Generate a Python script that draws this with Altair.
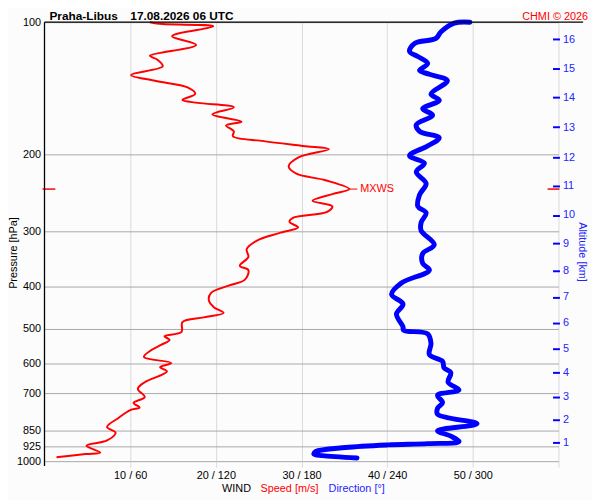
import altair as alt
import pandas as pd

# ---- data ----
speed_hpa = [100.0, 101.0, 102.2, 107.6, 112.7, 119.3, 121.5, 126.0, 131.9, 136.0,
             140.8, 145.7, 150.4, 152.7, 156.3, 162.2, 168.5, 171.9, 177.3, 181.9,
             186.6, 191.4, 194.6, 203.4, 213.0, 221.4, 229.1, 240.0, 246.4, 255.2,
             262.7, 270.5, 279.0, 285.1, 293.5, 302.3, 314.4, 329.1, 342.5, 358.9,
             367.0, 385.9, 398.3, 414.5, 431.3, 446.4, 459.3, 470.4, 482.1, 507.5,
             519.3, 529.6, 543.4, 559.5, 579.2, 597.6, 611.2, 624.5, 661.0, 684.4,
             714.3, 736.6, 754.6, 765.3, 798.2, 836.0, 861.5, 897.1, 922.3, 955.4,
             963.6, 979.7]
speed_ms = [12.3, 13.8, 19.7, 14.9, 17.7, 12.3, 13.1, 13.8, 10.1, 12.9,
            16.7, 17.6, 16.1, 17.9, 22.1, 19.6, 23.0, 21.2, 22.1, 22.0,
            25.6, 30.2, 33.2, 29.6, 28.5, 29.4, 32.8, 35.6, 33.6, 31.3,
            33.6, 33.0, 29.0, 28.6, 29.6, 27.4, 24.8, 23.6, 23.8, 22.8,
            23.8, 23.4, 21.5, 19.4, 19.2, 19.8, 20.9, 18.6, 16.1, 16.0,
            14.0, 14.6, 13.6, 12.4, 11.6, 14.8, 13.5, 14.3, 11.7, 10.9,
            11.7, 10.4, 11.1, 10.0, 8.6, 7.3, 8.3, 7.3, 4.9, 6.5,
            4.8, 1.4]

dir_hpa = [100.0, 100.5, 105.3, 108.9, 111.8, 116.6, 119.7, 124.2, 128.8, 131.4,
           136.0, 145.7, 150.7, 157.5, 162.8, 171.3, 177.3, 183.5, 191.4, 201.5,
           209.6, 219.5, 233.0, 247.4, 262.7, 271.8, 286.1, 298.4, 321.5, 336.6,
           354.4, 367.0, 392.7, 416.8, 438.7, 462.1, 494.0, 503.0, 513.0, 539.4,
           572.1, 592.4, 612.9, 629.0, 661.0, 688.0, 708.0, 735.2, 758.3, 782.0,
           822.0, 852.3, 877.1, 902.7, 912.0, 918.1, 930.8, 950.1, 963.6, 971.6,
           983.4]
dir_deg = [298.0, 287.0, 277.6, 274.2, 259.2, 255.7, 261.5, 268.4, 262.7, 269.6,
           282.2, 270.7, 276.5, 264.9, 271.8, 260.4, 262.7, 276.5, 268.4, 255.7,
           266.1, 260.4, 267.3, 262.7, 261.5, 267.3, 263.8, 263.8, 273.0, 264.9,
           264.9, 269.6, 250.0, 243.1, 251.1, 246.5, 251.1, 251.5, 268.4, 270.7,
           269.6, 278.8, 279.9, 284.6, 282.7, 290.3, 275.3, 278.8, 275.3, 275.3,
           303.0, 275.3, 284.6, 290.3, 268.4, 240.7, 210.8, 190.1, 188.7, 194.7,
           218.9]

alt_km = [1, 2, 3, 4, 5, 6, 7, 8, 9, 10, 11, 12, 13, 14, 15, 16]
alt_hpa = [908.7, 803.4, 712.9, 628.1, 554.6, 483.5, 422.6, 368.5, 318.6, 275.0,
           235.8, 203.6, 173.4, 148.4, 127.3, 109.3]

pressure_ticks = [100, 200, 300, 400, 500, 600, 700, 850, 925, 1000]
speed_ticks = [10, 20, 30, 40, 50, 60]

mxws_hpa = [240.0]
mxws_ms = [35.6]

# ---- styling ----
W, H = 521, 445
FONT = "Liberation Sans"
RED = "#ff0000"
BLUE = "#0000ff"
BLUE_TXT = "#2424ff"

speed_df = pd.DataFrame({"pressure": speed_hpa, "speed": speed_ms})
dir_df = pd.DataFrame({"pressure": dir_hpa, "direction": dir_deg})
alt_df = pd.DataFrame({"pressure": alt_hpa, "km": alt_km})
mx_df = pd.DataFrame({"pressure": mxws_hpa, "speed": mxws_ms})
one = pd.DataFrame({"a": [0]})


def yscale():
    return alt.Scale(type="log", domain=[100, 1000], reverse=True, nice=False, zero=False)


def sscale():
    return alt.Scale(domain=[0, 60], nice=False, zero=False)


speed = alt.Chart(speed_df).mark_line(color=RED, strokeWidth=2, strokeJoin="round",
                                      interpolate="catmull-rom").encode(
    x=alt.X("speed:Q", scale=sscale(),
            axis=alt.Axis(values=speed_ticks, title=None, grid=True, gridColor="#d9d9d9",
                          gridWidth=1, domain=False, ticks=True, tickColor="#d9d9d9",
                          tickSize=6, labelPadding=3, labelFontSize=11, labelColor="black",
                          labelFont=FONT, labelFlush=False, labelOverlap=False,
                          labelExpr="datum.value >= 60 ? '' : datum.value + ' / ' + (datum.value * 6)")),
    y=alt.Y("pressure:Q", scale=yscale(),
            axis=alt.Axis(orient="left", values=pressure_ticks, format="d", title=None, grid=True,
                          gridColor="#a8a8a8", gridWidth=1, domain=False, ticks=False,
                          labelPadding=4, labelFontSize=11, labelColor="black", labelFont=FONT,
                          labelFlush=False, labelOverlap=False)),
    order=alt.Order("pressure:Q", sort="descending"),
)

direction = alt.Chart(dir_df).mark_line(color=BLUE, strokeWidth=5, strokeJoin="round",
                                        strokeCap="round", interpolate="catmull-rom").encode(
    x=alt.X("direction:Q", scale=alt.Scale(domain=[0, 360], nice=False, zero=False), axis=None),
    y=alt.Y("pressure:Q", scale=yscale(), axis=None),
    order=alt.Order("pressure:Q", sort="descending"),
)

km_expr = "{}[indexof({}, datum.value)]".format(alt_km, alt_hpa)
altitude = alt.Chart(alt_df).mark_point(opacity=0).encode(
    x=alt.value(0),
    y=alt.Y("pressure:Q", scale=yscale(),
            axis=alt.Axis(orient="right", values=alt_hpa, labelExpr=km_expr, title=None,
                          offset=-6, tickSize=7, tickWidth=2, tickColor=BLUE, domain=False,
                          grid=False, labelColor=BLUE_TXT, labelPadding=3, labelFontSize=11,
                          labelFont=FONT, labelOverlap=False, labelFlush=False)),
)

mx_line = alt.Chart(mx_df).mark_rule(color=RED, strokeWidth=1, x2Offset=8).encode(
    x=alt.X("speed:Q", scale=sscale(), axis=None),
    x2=alt.X2("speed:Q"),
    y=alt.Y("pressure:Q", scale=yscale(), axis=None),
)
mx_text = alt.Chart(mx_df).mark_text(text="MXWS", color=RED, fontSize=11, font=FONT,
                                     align="left", baseline="middle", dx=11).encode(
    x=alt.X("speed:Q", scale=sscale(), axis=None),
    y=alt.Y("pressure:Q", scale=yscale(), axis=None),
)
mx_left = alt.Chart(mx_df).mark_rule(color=RED, strokeWidth=1.5).encode(
    x=alt.value(-2), x2=alt.value(11),
    y=alt.Y("pressure:Q", scale=yscale(), axis=None),
)
mx_right = alt.Chart(mx_df).mark_rule(color=RED, strokeWidth=1.5).encode(
    x=alt.value(510), x2=alt.value(522),
    y=alt.Y("pressure:Q", scale=yscale(), axis=None),
)

top_line = alt.Chart(one).mark_rule(color="black", strokeWidth=1.3).encode(
    x=alt.value(0), x2=alt.value(546), y=alt.value(0))
left_line = alt.Chart(one).mark_rule(color="black", strokeWidth=1.3).encode(
    x=alt.value(0), y=alt.value(0), y2=alt.value(H + 5))


def label(text, x, y, color="black", size=11, weight="normal", align="left",
          baseline="alphabetic", angle=0):
    return alt.Chart(one).mark_text(text=text, color=color, fontSize=size, fontWeight=weight,
                                    font=FONT, align=align, baseline=baseline,
                                    angle=angle).encode(x=alt.value(x), y=alt.value(y))


texts = [
    label("Praha-Libus", 5, -2, size=12, weight="bold"),
    label("17.08.2026 06 UTC", 87, -2, size=12, weight="bold"),
    label("CHMI © 2026", 551, -2, color=RED, align="right"),
    label("WIND", 180, 476),
    label("Speed [m/s]", 219, 476, color=RED),
    label("Direction [°]", 288, 476, color=BLUE_TXT),
    label("Pressure [hPa]", -31, 234, align="center", baseline="middle", angle=270),
    label("Altitude [km]", 545, 233, color=BLUE_TXT, align="center", baseline="middle", angle=90),
]

chart = alt.layer(
    speed, direction, mx_line, mx_text, mx_left, mx_right, altitude, top_line, left_line, *texts
).resolve_scale(
    x="independent", y="independent"
).properties(
    width=W, height=H,
    autosize=alt.AutoSizeParams(type="none"),
    padding={"left": 37, "top": 11, "right": 34, "bottom": 36},
    background="#fcfcfc",
).configure_view(stroke=None)

chart.save("out.html", embed_options={"renderer": "svg", "actions": False})
